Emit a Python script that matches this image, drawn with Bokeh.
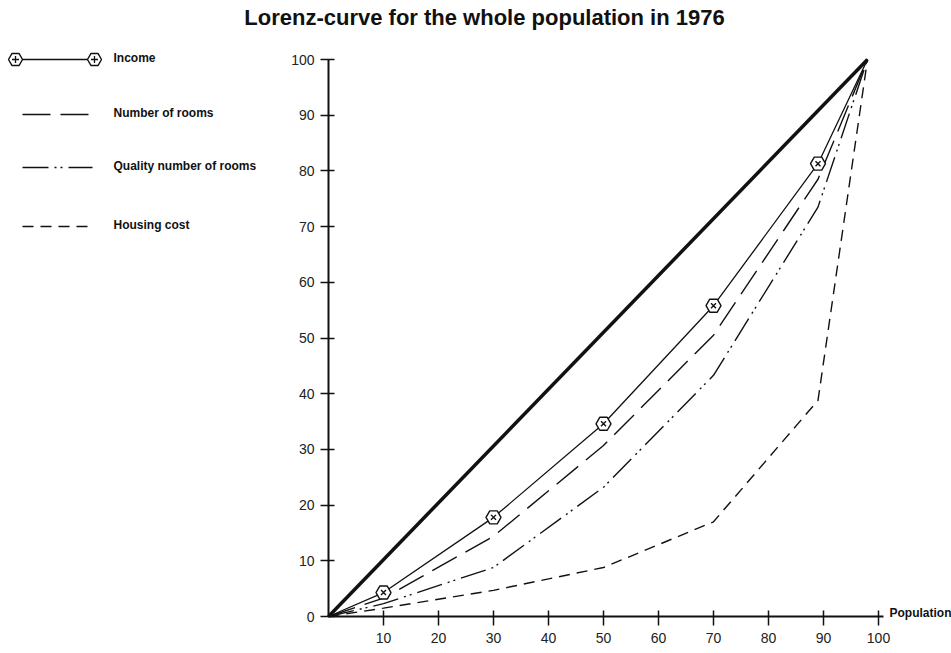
from bokeh.plotting import figure
from bokeh.models import Range1d, FixedTicker, Label
from bokeh.embed import file_html
from bokeh.resources import INLINE

# ---------------- data ----------------
population = [0, 10, 30, 50, 70, 89, 98]
income = [0, 4.3, 17.8, 34.6, 55.8, 81.3, 100]
rooms = [0, 3.3, 14.4, 30.7, 50.5, 78.5, 100]
quality_rooms = [0, 2.3, 8.8, 23.2, 43.3, 73.5, 100]
housing_cost = [0, 1.5, 4.7, 8.8, 17.0, 38.8, 100]
equality_x = [0, 98]
equality_y = [0, 100]
x_ticks = [10, 20, 30, 40, 50, 60, 70, 80, 90, 100]
y_ticks = [0, 10, 20, 30, 40, 50, 60, 70, 80, 90, 100]
series_names = ["Income", "Number of rooms", "Quality number of rooms", "Housing cost"]
title_text = "Lorenz-curve for the whole population in 1976"
x_axis_name = "Population"

# ---------------- layout constants (canvas pixels) ----------------
W, H = 951, 653
X0_PX, X_SCALE = 328.0, 5.5      # px of x=0, px per unit
Y0_PX, Y_SCALE = 616.0, 5.57     # px of y=0, px per unit


def dx(px):
    return (px - X0_PX) / X_SCALE


def dy(py):
    return (Y0_PX - py) / Y_SCALE


INK = "#111111"
FONT = "Liberation Sans"

p = figure(width=W, height=H, x_range=Range1d(dx(0), dx(W)),
           y_range=Range1d(dy(H), dy(0)), output_backend="svg",
           toolbar_location=None, title=None, min_border=0,
           background_fill_color="white", border_fill_color="white")
p.outline_line_color = None
p.grid.visible = False

# axes placed at the origin
xa = p.xaxis[0]
ya = p.yaxis[0]
xa.fixed_location = 0
ya.fixed_location = 0
xa.bounds = (0, dx(883))
ya.bounds = (0, 100)
xa.ticker = FixedTicker(ticks=x_ticks)
ya.ticker = FixedTicker(ticks=y_ticks)
for ax in (xa, ya):
    ax.axis_line_color = INK
    ax.axis_line_width = 2
    ax.major_tick_line_color = INK
    ax.major_tick_line_width = 1.5
    ax.minor_tick_line_color = None
    ax.major_label_text_font = FONT
    ax.major_label_text_font_size = "14px"
    ax.major_label_text_color = "#222222"
xa.major_tick_in = 6
xa.major_tick_out = 9
xa.major_label_standoff = 7
ya.major_tick_in = 6
ya.major_tick_out = 8
ya.major_label_standoff = 6

# ---------------- curves ----------------
p.line(equality_x, equality_y, line_color=INK, line_width=3.5)
p.line(population, housing_cost, line_color=INK, line_width=1.4, line_dash="11 7")
p.line(population, quality_rooms, line_color=INK, line_width=1.4, line_dash="26 6 2 4 2 6")
p.line(population, rooms, line_color=INK, line_width=1.4, line_dash="28 10")
p.line(population, income, line_color=INK, line_width=1.3)
p.scatter(population[1:-1], income[1:-1], marker="hex", size=15,
          fill_color="white", line_color=INK, line_width=1.4)
p.scatter(population[1:-1], income[1:-1], marker="x", size=7,
          line_color=INK, line_width=1.4)

# ---------------- legend (drawn by hand) ----------------
leg_y_px = [59, 114, 167, 226]
leg_x0, leg_x1 = dx(22), dx(92)
dashes = [None, "28 10", "26 6 2 4 2 6", "11 7"]
for i, name in enumerate(series_names):
    yy = dy(leg_y_px[i])
    if i == 0:
        p.line([dx(15), dx(94)], [yy, yy], line_color=INK, line_width=1.3)
        p.scatter([dx(15), dx(94)], [yy, yy], marker="hex", size=14,
                  fill_color="white", line_color=INK, line_width=1.4)
        p.scatter([dx(15), dx(94)], [yy, yy], marker="cross", size=7,
                  line_color=INK, line_width=1.3)
    else:
        p.line([leg_x0, leg_x1], [yy, yy], line_color=INK, line_width=1.4,
               line_dash=dashes[i])
    p.add_layout(Label(x=dx(113), y=dy(leg_y_px[i] - 2), text=name,
                       text_font=FONT, text_font_size="12px",
                       text_font_style="bold", text_color=INK,
                       text_baseline="middle", text_align="left"))

# ---------------- title and axis name ----------------
p.add_layout(Label(x=dx(484), y=dy(17), text=title_text, text_font=FONT,
                   text_font_size="22px", text_font_style="bold",
                   text_color=INK, text_align="center",
                   text_baseline="middle"))
p.add_layout(Label(x=dx(889), y=dy(612), text=x_axis_name, text_font=FONT,
                   text_font_size="12px", text_font_style="bold",
                   text_color=INK, text_align="left", text_baseline="middle"))

open("out.html", "w").write(file_html(p, INLINE))
